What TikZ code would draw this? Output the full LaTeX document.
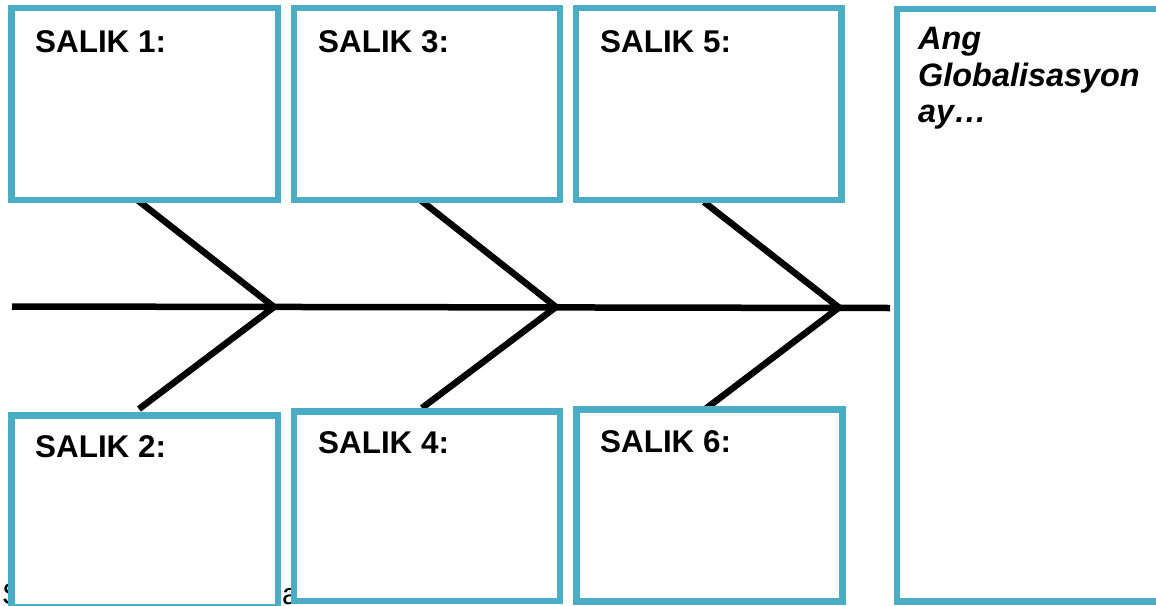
\documentclass[tikz,border=0pt]{standalone}
\usepackage{fontspec}
\setmainfont{Liberation Sans}
\definecolor{boxblue}{RGB}{75,172,198}
\begin{document}
\begin{tikzpicture}[x=1pt,y=-1pt,
  salikbox/.style={draw=boxblue,fill=white,line width=6.5pt,rectangle,inner sep=0pt,outer sep=0pt},
  saliklabel/.style={anchor=base west,inner sep=0pt,font=\fontsize{31.4}{36}\selectfont\bfseries},
  globlabel/.style={anchor=base west,inner sep=0pt,font=\fontsize{32.4}{36}\selectfont\bfseries\itshape},
  straytext/.style={anchor=base west,inner sep=0pt,font=\fontsize{30}{36}\selectfont},
  bone/.style={draw=black,line width=6.5pt,line join=miter}]
\useasboundingbox (0,0) rectangle (1156,605);
\clip (0,0) rectangle (1156,605);
\fill[white] (0,0) rectangle (1156,605);

% stray text partly hidden behind the boxes
\node[straytext] (s1) at (2,604) {S};
\node[straytext] (s2) at (282,604) {a};

% fishbone
\coordinate (spL) at (12,306.5);
\coordinate (spR) at (890,308);
\coordinate (j1) at (274,307);
\coordinate (j2) at (556,307);
\coordinate (j3) at (839,307.5);
\coordinate (u1) at (138,200.5);
\coordinate (d1) at (139,409);
\coordinate (u2) at (421,200.5);
\coordinate (d2) at (422,408);
\coordinate (u3) at (704,202);
\coordinate (d3) at (706,408.5);
\draw[bone] (spL) -- (spR);
\draw[bone] (u1) -- (j1) -- (d1);
\draw[bone] (u2) -- (j2) -- (d2);
\draw[bone] (u3) -- (j3) -- (d3);

% boxes
\node[salikbox,minimum width=266.5pt,minimum height=192pt] (b1) at (144.75,104) {};
\node[salikbox,minimum width=266pt,minimum height=192pt] (b3) at (427,104) {};
\node[salikbox,minimum width=265.5pt,minimum height=192pt] (b5) at (708.75,104) {};
\node[salikbox,minimum width=266.5pt,minimum height=191.3pt] (b2) at (144.75,511.35) {};
\node[salikbox,minimum width=266pt,minimum height=189.3pt] (b4) at (427,506.35) {};
\node[salikbox,minimum width=266pt,minimum height=192.2pt] (b6) at (709.7,505.6) {};
\node[salikbox,minimum width=268pt,minimum height=592.7pt] (bg) at (1031,305.35) {};

% labels
\node[saliklabel] (t1) at (35,52) {SALIK 1:};
\node[saliklabel] (t3) at (318,52) {SALIK 3:};
\node[saliklabel] (t5) at (600,52) {SALIK 5:};
\node[saliklabel] (t2) at (35,457) {SALIK 2:};
\node[saliklabel] (t4) at (318,453) {SALIK 4:};
\node[saliklabel] (t6) at (600,452.5) {SALIK 6:};
\node[globlabel] (g1) at (918,49) {Ang};
\node[globlabel] (g2) at (918,86) {Globalisasyon};
\node[globlabel] (g3) at (918,122) {ay…};
\end{tikzpicture}
\end{document}
